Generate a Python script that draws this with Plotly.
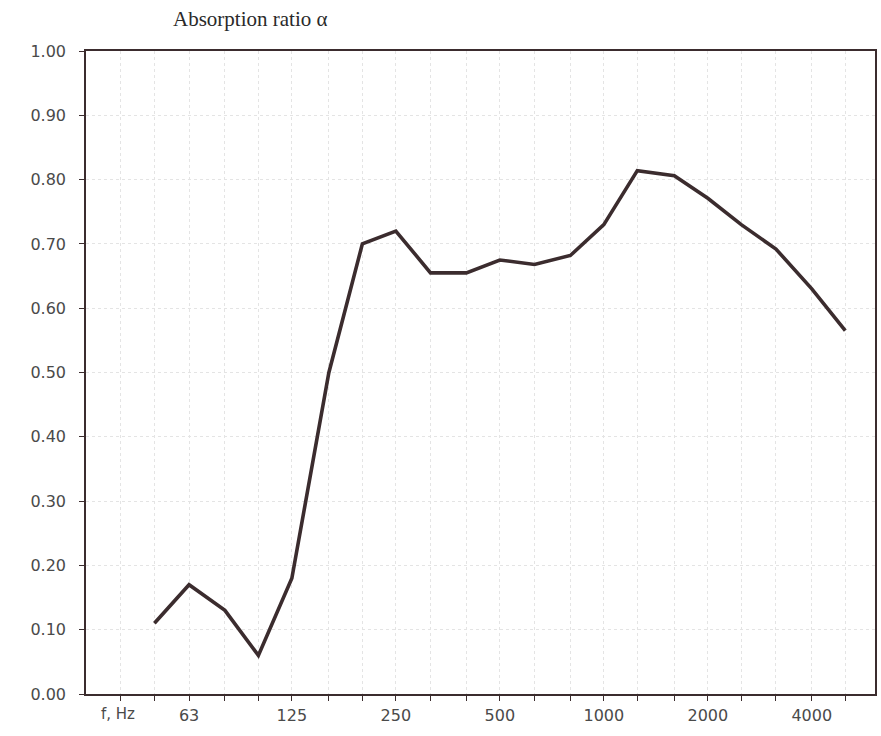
import plotly.graph_objects as go

freqs = [50, 63, 80, 100, 125, 160, 200, 250, 315, 400, 500, 630, 800,
         1000, 1250, 1600, 2000, 2500, 3150, 4000, 5000]
alpha = [0.11, 0.17, 0.13, 0.06, 0.18, 0.50, 0.70, 0.72, 0.655, 0.655, 0.675,
         0.668, 0.682, 0.73, 0.814, 0.806, 0.771, 0.73, 0.692, 0.63, 0.565]

tick_freqs = [40, 50, 63, 80, 100, 125, 160, 200, 250, 315, 400, 500, 630, 800,
              1000, 1250, 1600, 2000, 2500, 3150, 4000, 5000]
labeled = ["63", "125", "250", "500", "1000", "2000", "4000"]
tick_text = [str(f) if str(f) in labeled else "" for f in tick_freqs]

y_ticks = [0.0, 0.1, 0.2, 0.3, 0.4, 0.5, 0.6, 0.7, 0.8, 0.9, 1.0]
y_text = ["%.2f" % v for v in y_ticks]

ink = "#3b2c2e"
label_col = "#4a4a4a"

fig = go.Figure()
fig.add_trace(go.Scatter(
    x=freqs, y=alpha, mode="lines",
    line=dict(color=ink, width=3.6),
    hoverinfo="x+y", showlegend=False,
))

fig.update_layout(
    width=881, height=736,
    paper_bgcolor="#ffffff", plot_bgcolor="#ffffff",
    margin=dict(l=86, r=6, t=51, b=42, autoexpand=False),
    font=dict(family="DejaVu Sans", size=16, color=label_col),
    title=dict(
        text="Absorption ratio α",
        font=dict(family="Liberation Serif", size=21, color="#2a2a2a"),
        x=173 / 881, xanchor="left", xref="container",
        y=1 - 19 / 736, yanchor="middle", yref="container",
    ),
    annotations=[dict(
        text="f, Hz", xref="paper", yref="paper",
        x=(118 - 86) / (875 - 86), y=-20 / 643,
        xanchor="center", yanchor="middle", showarrow=False,
        font=dict(family="DejaVu Sans", size=15, color=label_col),
    )],
)

fig.update_xaxes(
    type="log", range=[1.501, 3.785],
    tickmode="array", tickvals=tick_freqs, ticktext=tick_text,
    ticks="outside", ticklen=5, tickwidth=1, tickcolor=ink,
    showline=True, linecolor=ink, linewidth=1.6, mirror=True,
    showgrid=True, gridcolor="#e4e4e4", gridwidth=1, griddash="dot",
    zeroline=False, ticklabelstandoff=1, automargin=False,
)
fig.update_yaxes(
    range=[0, 1.0],
    tickmode="array", tickvals=y_ticks, ticktext=y_text,
    ticks="outside", ticklen=5, tickwidth=1, tickcolor=ink,
    showline=True, linecolor=ink, linewidth=1.6, mirror=True,
    showgrid=True, gridcolor="#e4e4e4", gridwidth=1, griddash="dot",
    zeroline=False, ticklabelstandoff=10, automargin=False,
)

fig.write_html("out.html", config={"displayModeBar": False},
               post_script="document.body.style.margin='0';")
